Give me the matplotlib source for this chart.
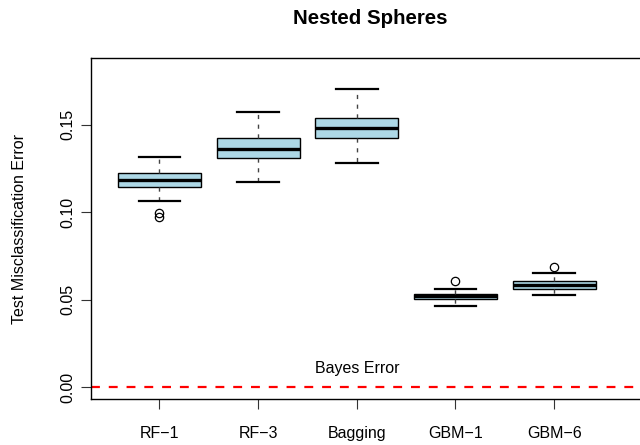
import matplotlib
matplotlib.use("Agg")
import matplotlib.pyplot as plt

plt.rcParams['font.family'] = ['Liberation Sans', 'DejaVu Sans']

categories = ["RF\u22121", "RF\u22123", "Bagging", "GBM\u22121", "GBM\u22126"]
whisker_low = [0.1065, 0.1174, 0.1282, 0.0462, 0.0527]
box_low = [0.1143, 0.1311, 0.1421, 0.0504, 0.0563]
medians = [0.1183, 0.1362, 0.1478, 0.0519, 0.0586]
box_high = [0.1221, 0.1425, 0.1535, 0.0534, 0.0605]
whisker_high = [0.1314, 0.1571, 0.1705, 0.0563, 0.0654]
outliers = [[0.0997, 0.0974], [], [], [0.0608], [0.0685]]
bayes_error = 0.0
y_ticks = [0.00, 0.05, 0.10, 0.15]

fig = plt.figure(figsize=(6.4, 4.45), dpi=100)
W, H = 640, 445
left, right, top, bottom = 91, 649, 58.3, 399.3
ax = fig.add_axes([left / W, 1 - bottom / H, (right - left) / W, (bottom - top) / H])

stats = []
for i, name in enumerate(categories):
    stats.append(dict(label=name, whislo=whisker_low[i], q1=box_low[i], med=medians[i],
                      q3=box_high[i], whishi=whisker_high[i], fliers=outliers[i]))

positions = list(range(1, len(categories) + 1))
ax.bxp(stats, positions=positions, widths=0.84, patch_artist=True,
       boxprops=dict(facecolor='#ADD8E6', edgecolor='black', linewidth=1.0),
       medianprops=dict(color='black', linewidth=2.4),
       whiskerprops=dict(color='#444444', linewidth=1.0, linestyle=(0, (3, 4))),
       capprops=dict(color='black', linewidth=1.6),
       capwidths=0.42,
       flierprops=dict(marker='o', markerfacecolor='none', markeredgecolor='black',
                       markersize=6, markeredgewidth=0.9))

ax.axhline(bayes_error, color='red', linewidth=1.6, linestyle=(0, (4, 4)))
ax.text(3, 0.011, "Bayes Error", ha='center', va='center', fontsize=11.5)

ax.set_xlim(0.308, 5.96)
ax.set_ylim(-0.00685, 0.1878)
ax.set_yticks(y_ticks)
ax.set_yticklabels([f"{v:.2f}" for v in y_ticks], rotation=90, va='center', fontsize=11.5)
ax.set_xticks(positions)
ax.set_xticklabels(categories, fontsize=11.5)
ax.tick_params(axis='both', length=7, width=0.8, color='#333333')
ax.tick_params(axis='y', pad=4)
ax.tick_params(axis='x', pad=12)
for s in ax.spines.values():
    s.set_linewidth(1.0)

ax.set_ylabel("Test Misclassification Error", fontsize=11.5, labelpad=24)
fig.text(370 / W, 1 - 18 / H, "Nested Spheres", ha='center', va='center',
         fontsize=14.8, fontweight='bold')

fig.savefig("out.png", dpi=100)
